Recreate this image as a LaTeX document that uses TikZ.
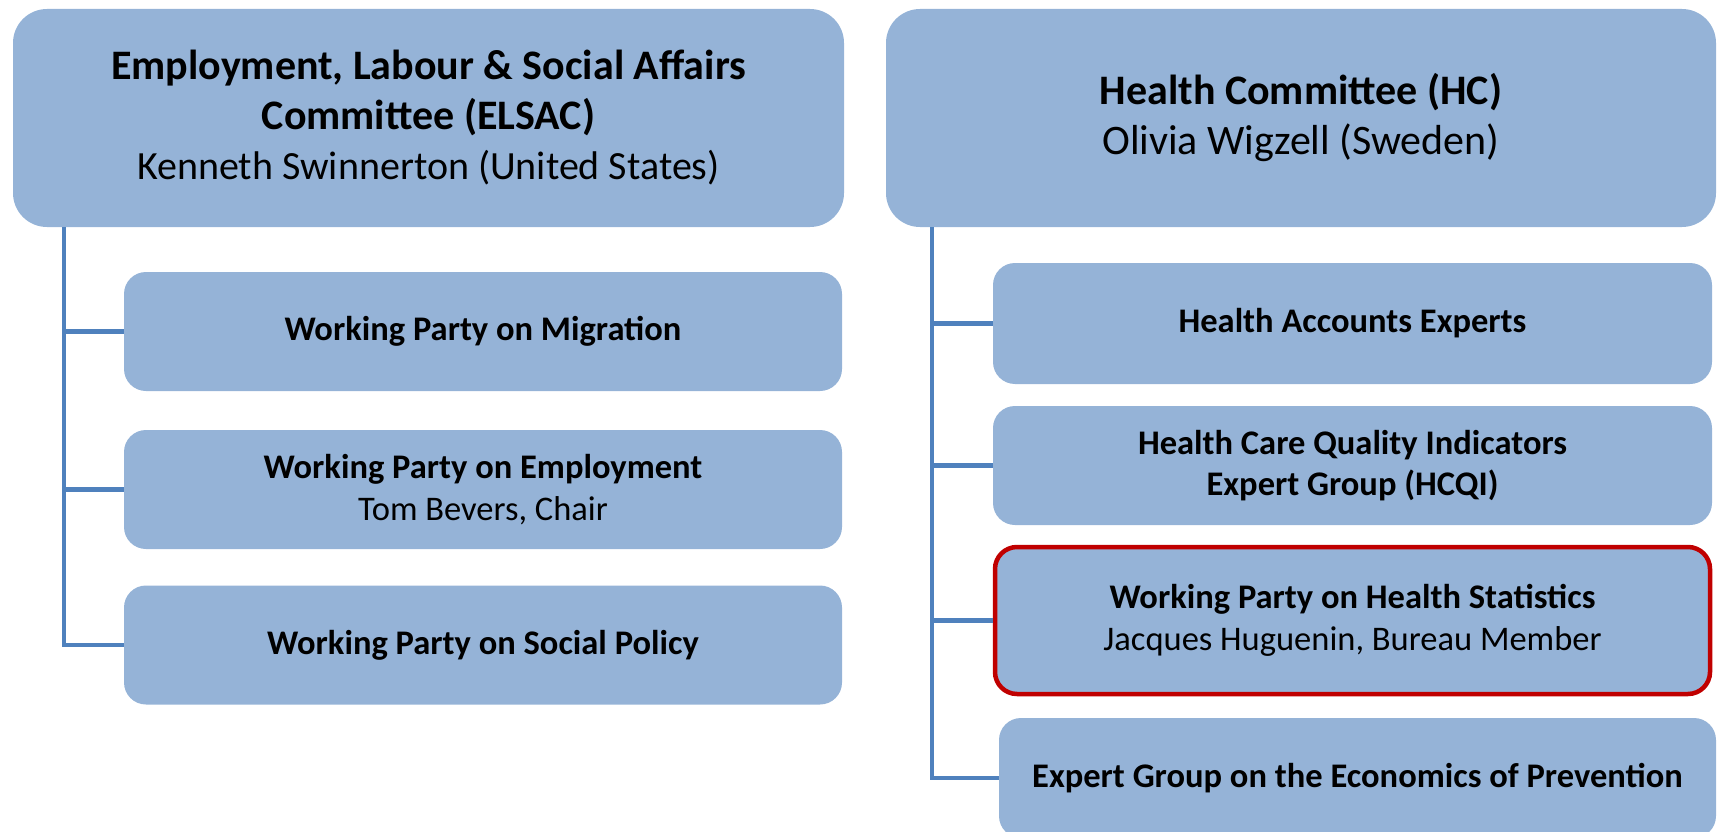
\documentclass[tikz,border=0pt]{standalone}
\usepackage{fontspec}
\setmainfont{Carlito}
\definecolor{boxfill}{HTML}{95B3D7}
\definecolor{linkblue}{HTML}{4F81BD}
\definecolor{hilite}{HTML}{C00000}
\begin{document}
\begin{tikzpicture}[x=1pt,y=-1pt,
  topbox/.style={rectangle, rounded corners=34pt, fill=boxfill, draw=none,
    minimum width=831pt, minimum height=218pt, inner sep=0pt, align=center,
    font=\fontsize{42}{50}\selectfont},
  subbox/.style={rectangle, rounded corners=22pt, fill=boxfill, draw=none,
    minimum width=718pt, minimum height=119pt, inner sep=0pt, align=center,
    font=\fontsize{34.5}{41.5}\selectfont},
  redbox/.style={draw=hilite, line width=4.5pt},
  link/.style={draw=linkblue, line width=4.5pt}]
\useasboundingbox (0,0) rectangle (1719,832);
\clip (0,0) rectangle (1719,832);
% left column
\node[topbox] (elsac) at (428.5,118) {\textbf{Employment, Labour \& Social Affairs}\\\textbf{Committee (ELSAC)}\\{\fontsize{40}{50}\selectfont Kenneth Swinnerton (United States)}};
\node[subbox] (mig) at (483,331.5) {\textbf{Working Party on Migration}};
\node[subbox] (emp) at (483,489.5) {\textbf{Working Party on Employment}\\Tom Bevers, Chair};
\node[subbox] (soc) at (483,645) {\textbf{Working Party on Social Policy}};
\coordinate (lx) at (elsac.south west -| 64,0);
\draw[link] (lx) |- (mig.west);
\draw[link] (lx) |- (emp.west);
\draw[link] (lx) |- (soc.west);
% right column
\node[topbox, minimum width=830pt] (hc) at (1301,118) {\textbf{Health Committee (HC)}\\Olivia Wigzell (Sweden)};
\node[subbox, minimum width=719pt, minimum height=121pt] (hae) at (1352.5,323.5) {\textbf{Health Accounts Experts}};
\node[subbox, minimum width=719pt] (hcqi) at (1352.5,465.5) {\textbf{Health Care Quality Indicators}\\\textbf{Expert Group (HCQI)}};
\node[subbox, redbox, minimum width=715pt, minimum height=147pt] (wphs) at (1352.5,620.5) {\textbf{Working Party on Health Statistics}\\Jacques Huguenin, Bureau Member};
\node[subbox, minimum width=717pt, minimum height=120pt] (egep) at (1357.5,778) {\textbf{Expert Group on the Economics of Prevention}};
\coordinate (rx) at (hc.south west -| 932,0);
\draw[link] (rx) |- (hae.west);
\draw[link] (rx) |- (hcqi.west);
\draw[link] (rx) |- (wphs.west);
\draw[link] (rx) |- (egep.west);
\end{tikzpicture}
\end{document}
